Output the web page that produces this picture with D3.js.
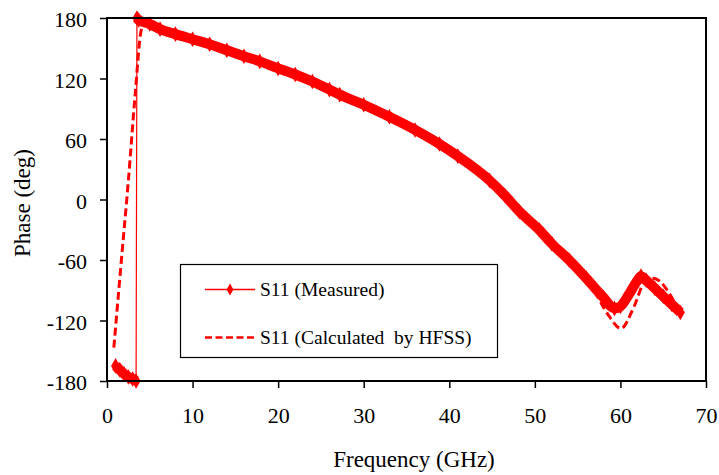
<!DOCTYPE html>
<html>
<head>
<meta charset="utf-8">
<script src="https://cdn.jsdelivr.net/npm/d3@7"></script>
<style>
  html, body { margin: 0; padding: 0; background: #fff; }
  svg { display: block; }
  svg text { font-family: "Liberation Serif", "Tinos", "Times New Roman", "DejaVu Serif", serif; fill: #000; }
</style>
</head>
<body>
<svg id="chart" width="719" height="475"></svg>
<script>
// ---- data ----
const xTicks = [0, 10, 20, 30, 40, 50, 60, 70];
const yTicks = [-180, -120, -60, 0, 60, 120, 180];

// S11 measured: before the phase wrap
const measuredFreqA  = [1.0, 1.5, 2.0, 2.5, 3.0, 3.4];
const measuredPhaseA = [-165, -169, -173, -176, -178, -180];
// S11 measured: after the phase wrap
const measuredFreqB  = [3.5, 3.7, 5, 6.2, 8, 10, 12, 14, 16, 17.85, 20, 22, 24, 26, 27.2, 30, 33, 36, 38.85, 41, 44.7, 46.5, 48.2, 50.5, 52, 54, 56, 58, 59.3, 60.0, 61.0, 62.0, 62.4, 63, 64, 65, 66, 67];
const measuredPhaseB = [180, 178, 174, 169, 164, 159, 154, 148, 142, 137, 130, 124, 117, 109, 104, 94, 82, 69, 55, 43, 19, 4, -12, -30, -44, -60, -78, -97, -108, -106, -94, -80, -76, -80, -88, -96, -104, -112];

// S11 calculated by HFSS
const hfssFreq  = [0.8, 1.6, 2.5, 3.3, 4.0, 4.5, 5.2, 6.2, 8, 10, 12, 14, 16, 18, 20, 22, 24, 26, 28, 30, 33, 36, 39, 41, 44.7, 48.2, 50.5, 52, 54, 55.5, 57, 58.7, 60.05, 61.6, 62.8, 63.8, 64.6, 65.7, 67];
const hfssPhase = [-147, -68, 19, 105, 168, 176, 177, 170, 164, 159, 154, 148, 142, 136, 130, 124, 117, 109, 101, 94, 82, 69, 54, 43, 19, -12, -30, -44, -61, -75, -92, -116, -128, -106, -82, -78, -81, -93, -113];

// ---- layout ----
const FONT = "'Liberation Serif', 'Tinos', 'Times New Roman', 'DejaVu Serif', serif";
const svg = d3.select("#chart");
const x = d3.scaleLinear().domain([0, 70]).range([107, 706]);
const y = d3.scaleLinear().domain([-180, 180]).range([381, 18]);
const red = "#ff0000";

const measA = measuredFreqA.map((f, i) => [f, measuredPhaseA[i]]);
const measB = measuredFreqB.map((f, i) => [f, measuredPhaseB[i]]);
const measAll = measA.concat(measB);
const hfss = hfssFreq.map((f, i) => [f, hfssPhase[i]]);

const line = d3.line().x(d => x(d[0])).y(d => y(d[1])).curve(d3.curveMonotoneX);
const lineLin = d3.line().x(d => x(d[0])).y(d => y(d[1]));

// axes
const yAxis = d3.axisLeft(y).tickValues(yTicks).tickFormat(d => String(d)).tickSize(7).tickPadding(13);
const xAxis = d3.axisBottom(x).tickValues(xTicks).tickFormat(d => String(d)).tickSize(7).tickPadding(19);

const gy = svg.append("g").attr("transform", "translate(107,0)").call(yAxis);
const gx = svg.append("g").attr("transform", "translate(0,381)").call(xAxis);
[gy, gx].forEach(g => {
  g.attr("font-family", FONT).attr("font-size", 22);
  g.select(".domain").remove();
  g.selectAll(".tick line").attr("stroke", "#000").attr("stroke-width", 1.5);
  g.selectAll(".tick text").style("font-family", FONT).style("font-size", "22px").attr("fill", "#000");
});
gy.selectAll(".tick text").attr("dy", "0.4em");

// HFSS dashed
svg.append("path").datum(hfss)
  .attr("d", line)
  .attr("fill", "none").attr("stroke", red).attr("stroke-width", 3)
  .attr("stroke-dasharray", "8,4");

// measured: thin connecting line
svg.append("path").datum(measAll)
  .attr("d", lineLin)
  .attr("fill", "none").attr("stroke", red).attr("stroke-width", 1.2);

// measured: dense marker band
[measA, measB].forEach(seg => {
  svg.append("path").datum(seg)
    .attr("d", line)
    .attr("fill", "none").attr("stroke", red).attr("stroke-width", 10)
    .attr("stroke-linejoin", "round");
});
const diamond = d3.symbol().type(d3.symbolDiamond).size(70);
svg.append("g").selectAll("path").data(measAll).join("path")
  .attr("transform", d => `translate(${x(d[0])},${y(d[1])})`)
  .attr("d", diamond).attr("fill", red);

// frame
const frame = svg.append("g").attr("stroke", "#000").attr("stroke-width", 2).attr("fill", "none");
frame.append("line").attr("x1", 107).attr("x2", 107).attr("y1", 17).attr("y2", 382);
frame.append("line").attr("x1", 106).attr("x2", 707).attr("y1", 381).attr("y2", 381);
frame.append("line").attr("x1", 106).attr("x2", 707).attr("y1", 18).attr("y2", 18);
frame.append("line").attr("x1", 706).attr("x2", 706).attr("y1", 17).attr("y2", 382);

// legend
const lg = svg.append("g");
lg.append("rect").attr("x", 180.5).attr("y", 264.5).attr("width", 317).attr("height", 93)
  .attr("fill", "#fff").attr("stroke", "#000").attr("stroke-width", 1.2);
lg.append("line").attr("x1", 205).attr("x2", 255).attr("y1", 289.5).attr("y2", 289.5)
  .attr("stroke", red).attr("stroke-width", 1.5);
lg.append("path").attr("transform", "translate(230,289.5)")
  .attr("d", d3.symbol().type(d3.symbolDiamond).size(40)).attr("fill", red);
lg.append("text").attr("x", 260).attr("y", 296).style("font-family", FONT).style("font-size", "19.5px").text("S11 (Measured)");
lg.append("line").attr("x1", 205).attr("x2", 255).attr("y1", 337.5).attr("y2", 337.5)
  .attr("stroke", red).attr("stroke-width", 2.5).attr("stroke-dasharray", "7,3.5");
lg.append("text").attr("x", 260).attr("y", 344).style("font-family", FONT).style("font-size", "19.5px")
  .style("white-space", "pre").text("S11 (Calculated  by HFSS)");

// axis titles
svg.append("text").attr("transform", "translate(30,203) rotate(-90)")
  .attr("text-anchor", "middle").style("font-family", FONT).style("font-size", "23px").text("Phase (deg)");
svg.append("text").attr("x", 414).attr("y", 467)
  .attr("text-anchor", "middle").style("font-family", FONT).style("font-size", "23px").text("Frequency (GHz)");
</script>
</body>
</html>
